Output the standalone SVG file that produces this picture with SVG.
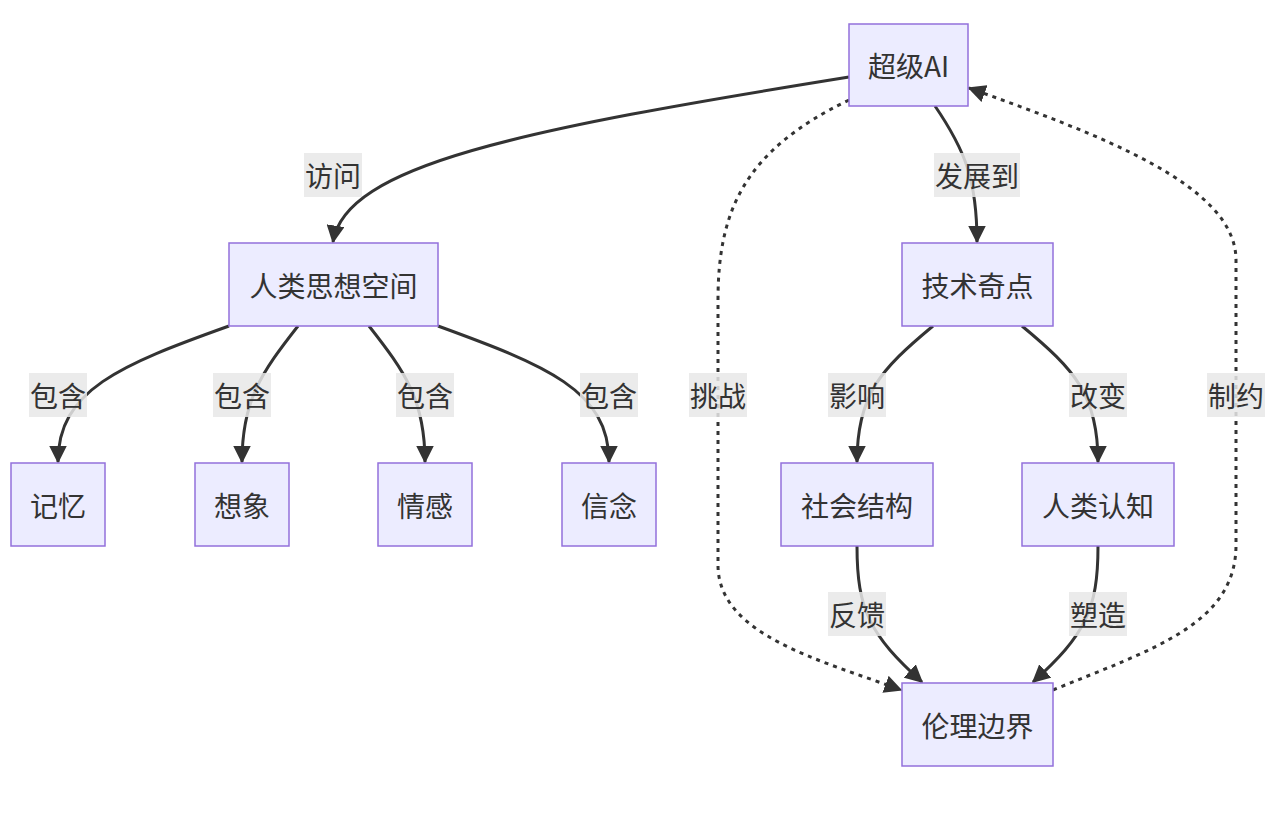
<svg xmlns="http://www.w3.org/2000/svg" width="1282" height="820" viewBox="0 0 1282 820">
<defs>
<marker id="ah" viewBox="0 0 12 12" refX="11" refY="6" markerWidth="18" markerHeight="18" markerUnits="userSpaceOnUse" orient="auto">
<path d="M0,0 L12,6 L0,12 z" fill="#333"/>
</marker>
<style>
.node rect{fill:#ECECFF;stroke:#9370DB;stroke-width:1.5}
.node text,.lbl text{font-family:"Noto Sans CJK SC","Noto Sans",sans-serif;font-size:28px;fill:#333;text-anchor:middle;dominant-baseline:central}
.e{fill:none;stroke:#333;stroke-width:3;marker-end:url(#ah)}
.d{stroke-dasharray:4 5}
.lbl rect{fill:#e8e8e8;opacity:0.85}
</style>
</defs>
<rect width="1282" height="820" fill="#fff"/>
<g id="edges">
<path class="e" d="M849,77 C520,130 345,165 333,242"/>
<path class="e" d="M935,106 C965,150 977,180 977,242"/>
<path class="e" d="M229,326 C120,365 58,390 58,462"/>
<path class="e" d="M298,326 C262,372 242,400 242,462"/>
<path class="e" d="M369,326 C405,372 425,400 425,462"/>
<path class="e" d="M438,326 C545,365 609,390 609,462"/>
<path class="e d" d="M849,100 C745,150 718,210 718,300 L718,565 C718,635 820,660 901,690"/>
<path class="e d" d="M1053,690 C1150,650 1236,625 1236,545 L1236,260 C1236,185 1100,135 969,88"/>
<path class="e" d="M933,326 C880,370 857,395 857,462"/>
<path class="e" d="M1022,326 C1075,370 1098,395 1098,462"/>
<path class="e" d="M857,546 C857,610 870,635 922,682"/>
<path class="e" d="M1098,546 C1098,610 1085,635 1033,682"/>
</g>
<g id="labels">
<g class="lbl"><rect x="304" y="153" width="58" height="44"/><text x="333" y="175">访问</text></g>
<g class="lbl"><rect x="934" y="153" width="86" height="44"/><text x="977" y="175">发展到</text></g>
<g class="lbl"><rect x="29" y="373" width="58" height="44"/><text x="58" y="395">包含</text></g>
<g class="lbl"><rect x="213" y="373" width="58" height="44"/><text x="242" y="395">包含</text></g>
<g class="lbl"><rect x="396" y="373" width="58" height="44"/><text x="425" y="395">包含</text></g>
<g class="lbl"><rect x="580" y="373" width="58" height="44"/><text x="609" y="395">包含</text></g>
<g class="lbl"><rect x="689" y="373" width="58" height="44"/><text x="718" y="395">挑战</text></g>
<g class="lbl"><rect x="828" y="373" width="58" height="44"/><text x="857" y="395">影响</text></g>
<g class="lbl"><rect x="1069" y="373" width="58" height="44"/><text x="1098" y="395">改变</text></g>
<g class="lbl"><rect x="1207" y="373" width="58" height="44"/><text x="1236" y="395">制约</text></g>
<g class="lbl"><rect x="828" y="592" width="58" height="44"/><text x="857" y="614">反馈</text></g>
<g class="lbl"><rect x="1069" y="592" width="58" height="44"/><text x="1098" y="614">塑造</text></g>
</g>
<g id="n-ai" class="node"><rect x="849" y="24" width="119" height="82"/><text x="908.5" y="65">超级AI</text></g>
<g id="n-mind" class="node"><rect x="229" y="243" width="209" height="83"/><text x="333.5" y="284.5">人类思想空间</text></g>
<g id="n-sing" class="node"><rect x="902" y="243" width="151" height="83"/><text x="977.5" y="284.5">技术奇点</text></g>
<g id="n-mem" class="node"><rect x="11" y="463" width="94" height="83"/><text x="58" y="504.5">记忆</text></g>
<g id="n-imag" class="node"><rect x="195" y="463" width="94" height="83"/><text x="242" y="504.5">想象</text></g>
<g id="n-emo" class="node"><rect x="378" y="463" width="94" height="83"/><text x="425" y="504.5">情感</text></g>
<g id="n-bel" class="node"><rect x="562" y="463" width="94" height="83"/><text x="609" y="504.5">信念</text></g>
<g id="n-soc" class="node"><rect x="781" y="463" width="152" height="83"/><text x="857" y="504.5">社会结构</text></g>
<g id="n-cog" class="node"><rect x="1022" y="463" width="152" height="83"/><text x="1098" y="504.5">人类认知</text></g>
<g id="n-eth" class="node"><rect x="902" y="683" width="151" height="83"/><text x="977.5" y="724.5">伦理边界</text></g>
</svg>
